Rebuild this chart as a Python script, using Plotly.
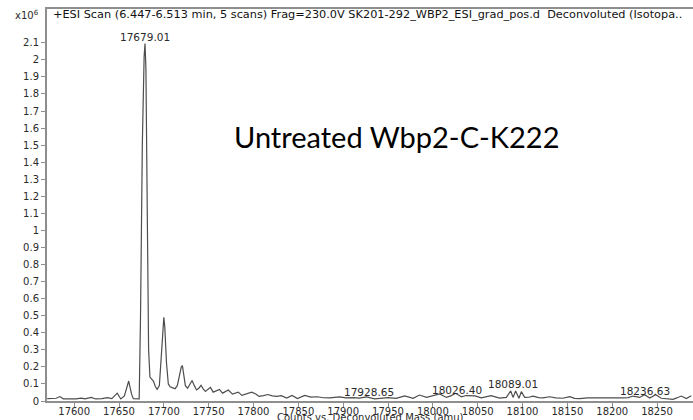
import plotly.graph_objects as go

# ---- data ----
mass = [17570, 17575, 17580, 17584, 17588, 17595, 17602, 17608, 17612, 17619,
        17624, 17631, 17637, 17642, 17648, 17652, 17656, 17660.8, 17664, 17666,
        17670, 17672.5, 17674, 17676, 17678, 17679, 17680, 17681.5, 17683, 17684.5,
        17686.5, 17688.5, 17690.5, 17692.5, 17695, 17697, 17699, 17700, 17701, 17703,
        17705, 17707, 17710, 17712.5, 17715, 17717, 17719.5, 17720.7, 17722, 17724,
        17726.5, 17729, 17731.5, 17734, 17736.5, 17739, 17741.5, 17744, 17746.5, 17749,
        17752, 17755, 17758.5, 17762, 17765.5, 17768.5, 17772, 17776.5, 17780, 17783,
        17787, 17792, 17798, 17803, 17806, 17811, 17816, 17821, 17826, 17831,
        17837, 17843, 17849, 17857, 17864, 17871, 17878, 17885, 17890, 17896,
        17903, 17911, 17918, 17926, 17935, 17942, 17950, 17959, 17968.6, 17978,
        17985, 17993, 18000, 18007.6, 18015, 18020, 18025.4, 18032, 18037, 18041,
        18047, 18054, 18060, 18065, 18074.5, 18082, 18086.8, 18089.4, 18092.3, 18096,
        18098.7, 18102.4, 18107, 18111.7, 18118, 18122.8, 18130.3, 18137, 18145, 18152.6,
        18158, 18163.7, 18172, 18182, 18190, 18197, 18205, 18212, 18218, 18223.2,
        18230.6, 18236.2, 18241.8, 18248.5, 18254.8, 18262, 18267.8, 18272, 18277, 18282.7,
        18288.2]
intensity = [0.014, 0.015, 0.016, 0.026, 0.013, 0.012, 0.012, 0.017, 0.012, 0.021,
             0.012, 0.014, 0.020, 0.014, 0.046, 0.012, 0.030, 0.117, 0.040, 0.013,
             0.011, 0.012, 0.500, 1.500, 2.020, 2.095, 1.950, 1.100, 0.300, 0.140,
             0.125, 0.115, 0.085, 0.068, 0.090, 0.250, 0.450, 0.490, 0.440, 0.220,
             0.100, 0.083, 0.077, 0.072, 0.090, 0.140, 0.200, 0.207, 0.170, 0.090,
             0.075, 0.095, 0.120, 0.090, 0.065, 0.075, 0.092, 0.070, 0.056, 0.068,
             0.080, 0.052, 0.060, 0.068, 0.046, 0.055, 0.064, 0.040, 0.045, 0.052,
             0.033, 0.042, 0.052, 0.040, 0.027, 0.032, 0.038, 0.030, 0.027, 0.031,
             0.017, 0.033, 0.014, 0.033, 0.023, 0.025, 0.019, 0.018, 0.022, 0.024,
             0.018, 0.020, 0.017, 0.024, 0.013, 0.018, 0.020, 0.016, 0.030, 0.016,
             0.035, 0.021, 0.029, 0.041, 0.021, 0.030, 0.045, 0.025, 0.032, 0.030,
             0.030, 0.019, 0.025, 0.031, 0.017, 0.021, 0.059, 0.021, 0.059, 0.016,
             0.055, 0.021, 0.022, 0.029, 0.020, 0.018, 0.025, 0.018, 0.016, 0.025,
             0.015, 0.014, 0.018, 0.018, 0.015, 0.018, 0.017, 0.018, 0.020, 0.029,
             0.021, 0.037, 0.018, 0.037, 0.016, 0.014, 0.010, 0.018, 0.029, 0.014,
             0.031]

peak_labels = ["17679.01", "17928.65", "18026.40", "18089.01", "18236.63"]
peak_label_heights = [2.132, 0.053, 0.064, 0.100, 0.060]

x_ticks = [17600, 17650, 17700, 17750, 17800, 17850, 17900, 17950,
           18000, 18050, 18100, 18150, 18200, 18250]
y_ticks = [0, 0.1, 0.2, 0.3, 0.4, 0.5, 0.6, 0.7, 0.8, 0.9, 1, 1.1,
           1.2, 1.3, 1.4, 1.5, 1.6, 1.7, 1.8, 1.9, 2, 2.1]
y_tick_text = ["0", "0.1", "0.2", "0.3", "0.4", "0.5", "0.6", "0.7", "0.8", "0.9",
               "1", "1.1", "1.2", "1.3", "1.4", "1.5", "1.6", "1.7", "1.8", "1.9",
               "2", "2.1"]

header = ("+ESI Scan (6.447-6.513 min, 5 scans) Frag=230.0V "
          "SK201-292_WBP2_ESI_grad_pos.d\u00a0\u00a0Deconvoluted (Isotopa..")
x_title = "Counts vs. Deconvoluted Mass (amu)"
big_label = "Untreated Wbp2-C-K222"

# ---- figure ----
AX = "#8e8e8e"
TXT = "#2a2a2a"
FONT = "DejaVu Sans"

fig = go.Figure()
fig.add_trace(go.Scatter(x=mass, y=intensity, mode="lines",
                         line=dict(color="#4d4d4d", width=1.2),
                         hoverinfo="skip", showlegend=False))

fig.update_layout(
    width=693, height=420,
    margin=dict(l=47, r=0, t=9, b=19, pad=0),
    paper_bgcolor="white", plot_bgcolor="white",
    showlegend=False,
    xaxis=dict(range=[17569.7, 18290.1], tickvals=x_ticks,
               ticktext=[str(v) for v in x_ticks],
               ticks="outside", ticklen=5, tickwidth=1, tickcolor=AX,
               showline=True, linecolor=AX, linewidth=2, mirror=True,
               showgrid=False, zeroline=False,
               tickfont=dict(family=FONT, size=10, color=TXT),
               ticklabelstandoff=-5),
    yaxis=dict(range=[0, 2.298], tickvals=y_ticks, ticktext=y_tick_text,
               ticks="outside", ticklen=4, tickwidth=1, tickcolor=AX,
               showline=True, linecolor=AX, linewidth=2,
               showgrid=False, zeroline=False,
               tickfont=dict(family=FONT, size=10, color=TXT)),
)

annotations = []
for lab, h in zip(peak_labels, peak_label_heights):
    annotations.append(dict(x=float(lab), y=h, xref="x", yref="y", text=lab,
                            showarrow=False, xanchor="center", yanchor="middle",
                            font=dict(family=FONT, size=10.5, color=TXT)))
annotations.append(dict(x=4 / 646, y=(401 - 15) / 392, xref="paper", yref="paper",
                        text=header, showarrow=False, xanchor="left", yanchor="middle",
                        font=dict(family=FONT, size=11.3, color="#111111")))
annotations.append(dict(x=-6 / 646, y=(401 - 15) / 392, xref="paper", yref="paper",
                        text="x10<sup>6</sup>", showarrow=False, xanchor="right",
                        yanchor="middle",
                        font=dict(family=FONT, size=10, color=TXT)))
annotations.append(dict(x=0.5, y=(401 - 417) / 392, xref="paper", yref="paper",
                        text=x_title, showarrow=False, xanchor="center",
                        yanchor="middle",
                        font=dict(family=FONT, size=10, color=TXT)))
annotations.append(dict(x=(396.5 - 47) / 646, y=(401 - 136) / 392, xref="paper",
                        yref="paper", text=big_label, showarrow=False,
                        xanchor="center", yanchor="middle",
                        font=dict(family="Lato", size=29, color="#000000")))
fig.update_layout(annotations=annotations)

fig.write_html("out.html", include_plotlyjs=True, config={"displayModeBar": False})
